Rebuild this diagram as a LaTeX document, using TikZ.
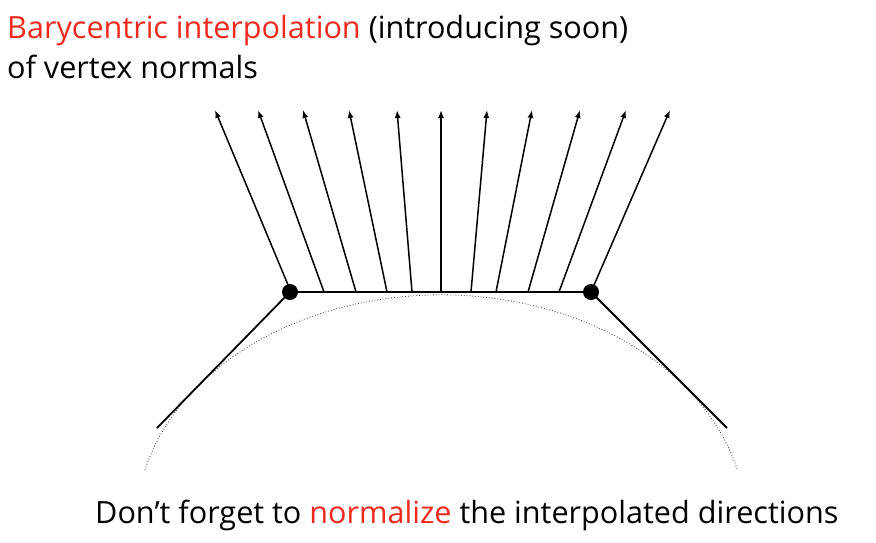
\documentclass[tikz,border=0pt]{standalone}
\usepackage{fontspec}
\setmainfont{Open Sans}[Ligatures=NoCommon]
\usetikzlibrary{arrows.meta}

\definecolor{keyred}{HTML}{EE2A1E}
\definecolor{guidegray}{HTML}{333333}

\begin{document}
\begin{tikzpicture}[
  x=1pt,
  y=-1pt,
  line join=round,
  edge/.style={draw=black,line width=1.8pt},
  normalarrow/.style={draw=black,line width=1.5pt,-{Latex[length=8pt,width=6pt]}},
  surface/.style={draw=guidegray,line width=0.8pt,dotted},
  caption/.style={font=\fontsize{30.6}{34}\selectfont,inner sep=0pt}
]
  % Match the slide frame.
  \useasboundingbox (0,0) rectangle (876,542);

  % Title and footnote text.
  \node[caption,anchor=base west] (title) at (7,38)
    {\textcolor{keyred}{Barycentric interpolation} (introducing soon)};
  \node[caption,anchor=base west] (subtitle) at (7,78) {of vertex normals};
  \node[caption,anchor=base west] (note) at (95,523)
    {Don’t forget to \textcolor{keyred}{normalize} the interpolated directions};

  % Mesh vertices and the ends of the neighbouring edges.
  \coordinate (vl) at (290,292);
  \coordinate (vr) at (591,292);
  \coordinate (el) at (157,428);
  \coordinate (er) at (727,428);

  % Underlying smooth surface.
  \draw[surface] (145,470) arc[start angle=166.2,end angle=13.8,x radius=305,y radius=-230];

  % Interpolated normals along the edge.
  \foreach \bx/\tx [count=\i] in {291/215,324/258,356/303,387/349,412/397,441/441,
                                  471/487,496/532,528/580,559/626,591/670} {
    \coordinate (b\i) at (\bx,292);
    \coordinate (t\i) at (\tx,110);
    \draw[normalarrow] (b\i) -- (t\i);
  }

  % The edge between the two vertices and its neighbours.
  \draw[edge] (el) -- (vl) -- (vr) -- (er);

  % Vertices.
  \foreach \p in {vl,vr} {
    \fill (\p) circle[radius=8pt];
  }
\end{tikzpicture}
\end{document}
